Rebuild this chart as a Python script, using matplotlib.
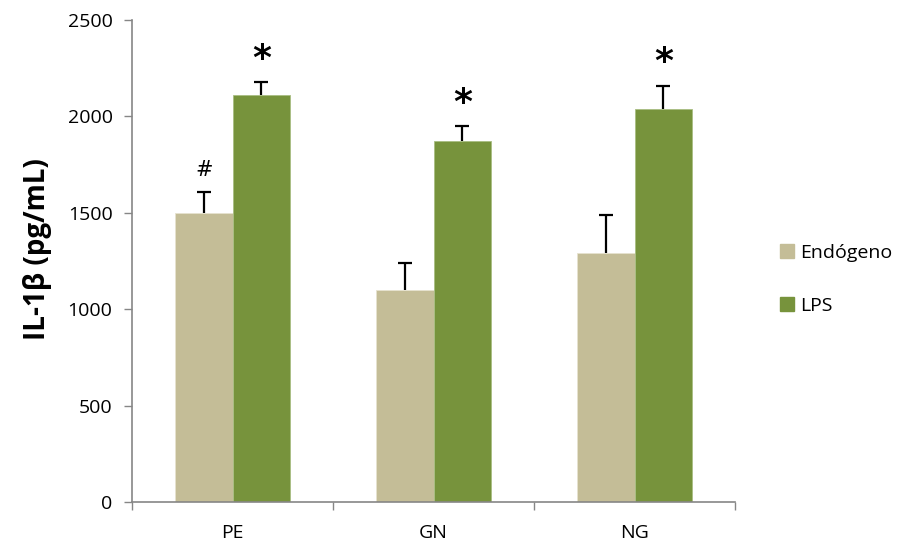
import numpy as np
import matplotlib
matplotlib.use("Agg")
import matplotlib.pyplot as plt
from matplotlib.patches import Patch

# datos
grupos = ["PE", "GN", "NG"]
endogeno = [1500, 1100, 1290]
endogeno_err = [108, 140, 200]
lps = [2110, 1870, 2040]
lps_err = [70, 80, 120]
marcas_endo = ["#", "", ""]
marcas_lps = ["*", "*", "*"]

c_endo = "#C4BD97"
c_lps = "#77933C"

plt.rcParams['font.family'] = ['Open Sans', 'DejaVu Sans']

fig = plt.figure(figsize=(9.14, 5.5), dpi=100)
ax = fig.add_axes([0.1444, 0.0873, 0.660, 0.8763])

x = np.arange(len(grupos))
w = 1 / 3.5
cap = 0.035

ax.bar(x - w / 2, endogeno, w, color=c_endo, edgecolor="#E6E2CF", linewidth=0.6, zorder=2)
ax.bar(x + w / 2, lps, w, color=c_lps, edgecolor="#A9BE82", linewidth=0.6, zorder=2)

# solo la parte superior de la barra de error
for xs, vals, errs in [(x - w / 2, endogeno, endogeno_err), (x + w / 2, lps, lps_err)]:
    tops = np.array(vals) + np.array(errs)
    ax.vlines(xs, vals, tops, color="black", linewidth=1.6, zorder=3)
    ax.hlines(tops, xs - cap, xs + cap, color="black", linewidth=1.6, zorder=3)

for i in range(len(grupos)):
    if marcas_endo[i]:
        ax.text(x[i] - w / 2, endogeno[i] + endogeno_err[i] + 114, marcas_endo[i],
                ha="center", va="center", fontsize=15, family="DejaVu Sans")
    if marcas_lps[i]:
        ax.text(x[i] + w / 2, lps[i] + lps_err[i] + 120, marcas_lps[i],
                ha="center", va="center", fontsize=26, fontweight="bold", family="DejaVu Sans")

ax.set_xlim(-0.5, 2.5)
ax.set_ylim(0, 2500)
ax.set_yticks(np.arange(0, 2501, 500))
ax.set_xticks(x)
ax.set_xticklabels(grupos)
ax.set_xticks([-0.5, 0.5, 1.5, 2.5], minor=True)
ax.tick_params(axis="x", which="major", length=0, pad=16, labelsize=14)
ax.tick_params(axis="x", which="minor", length=6, color="#868686", width=1)
ax.tick_params(axis="y", length=6, color="#868686", width=1, labelsize=14, pad=8)

for s in ["top", "right"]:
    ax.spines[s].set_visible(False)
for s in ["left", "bottom"]:
    ax.spines[s].set_color("#868686")
    ax.spines[s].set_linewidth(1.2)

ax.set_ylabel("IL-1β (pg/mL)", fontsize=20, fontweight="bold")
ax.yaxis.set_label_coords(-0.133, 0.525)

handles = [Patch(color=c_endo, label="Endógeno"), Patch(color=c_lps, label="LPS")]
fig.legend(handles=handles, loc="center left", bbox_to_anchor=(0.834, 0.492),
           frameon=False, fontsize=14, handlelength=0.75, handleheight=0.75,
           handletextpad=0.3, labelspacing=1.8)

fig.savefig("out.png", dpi=100)
